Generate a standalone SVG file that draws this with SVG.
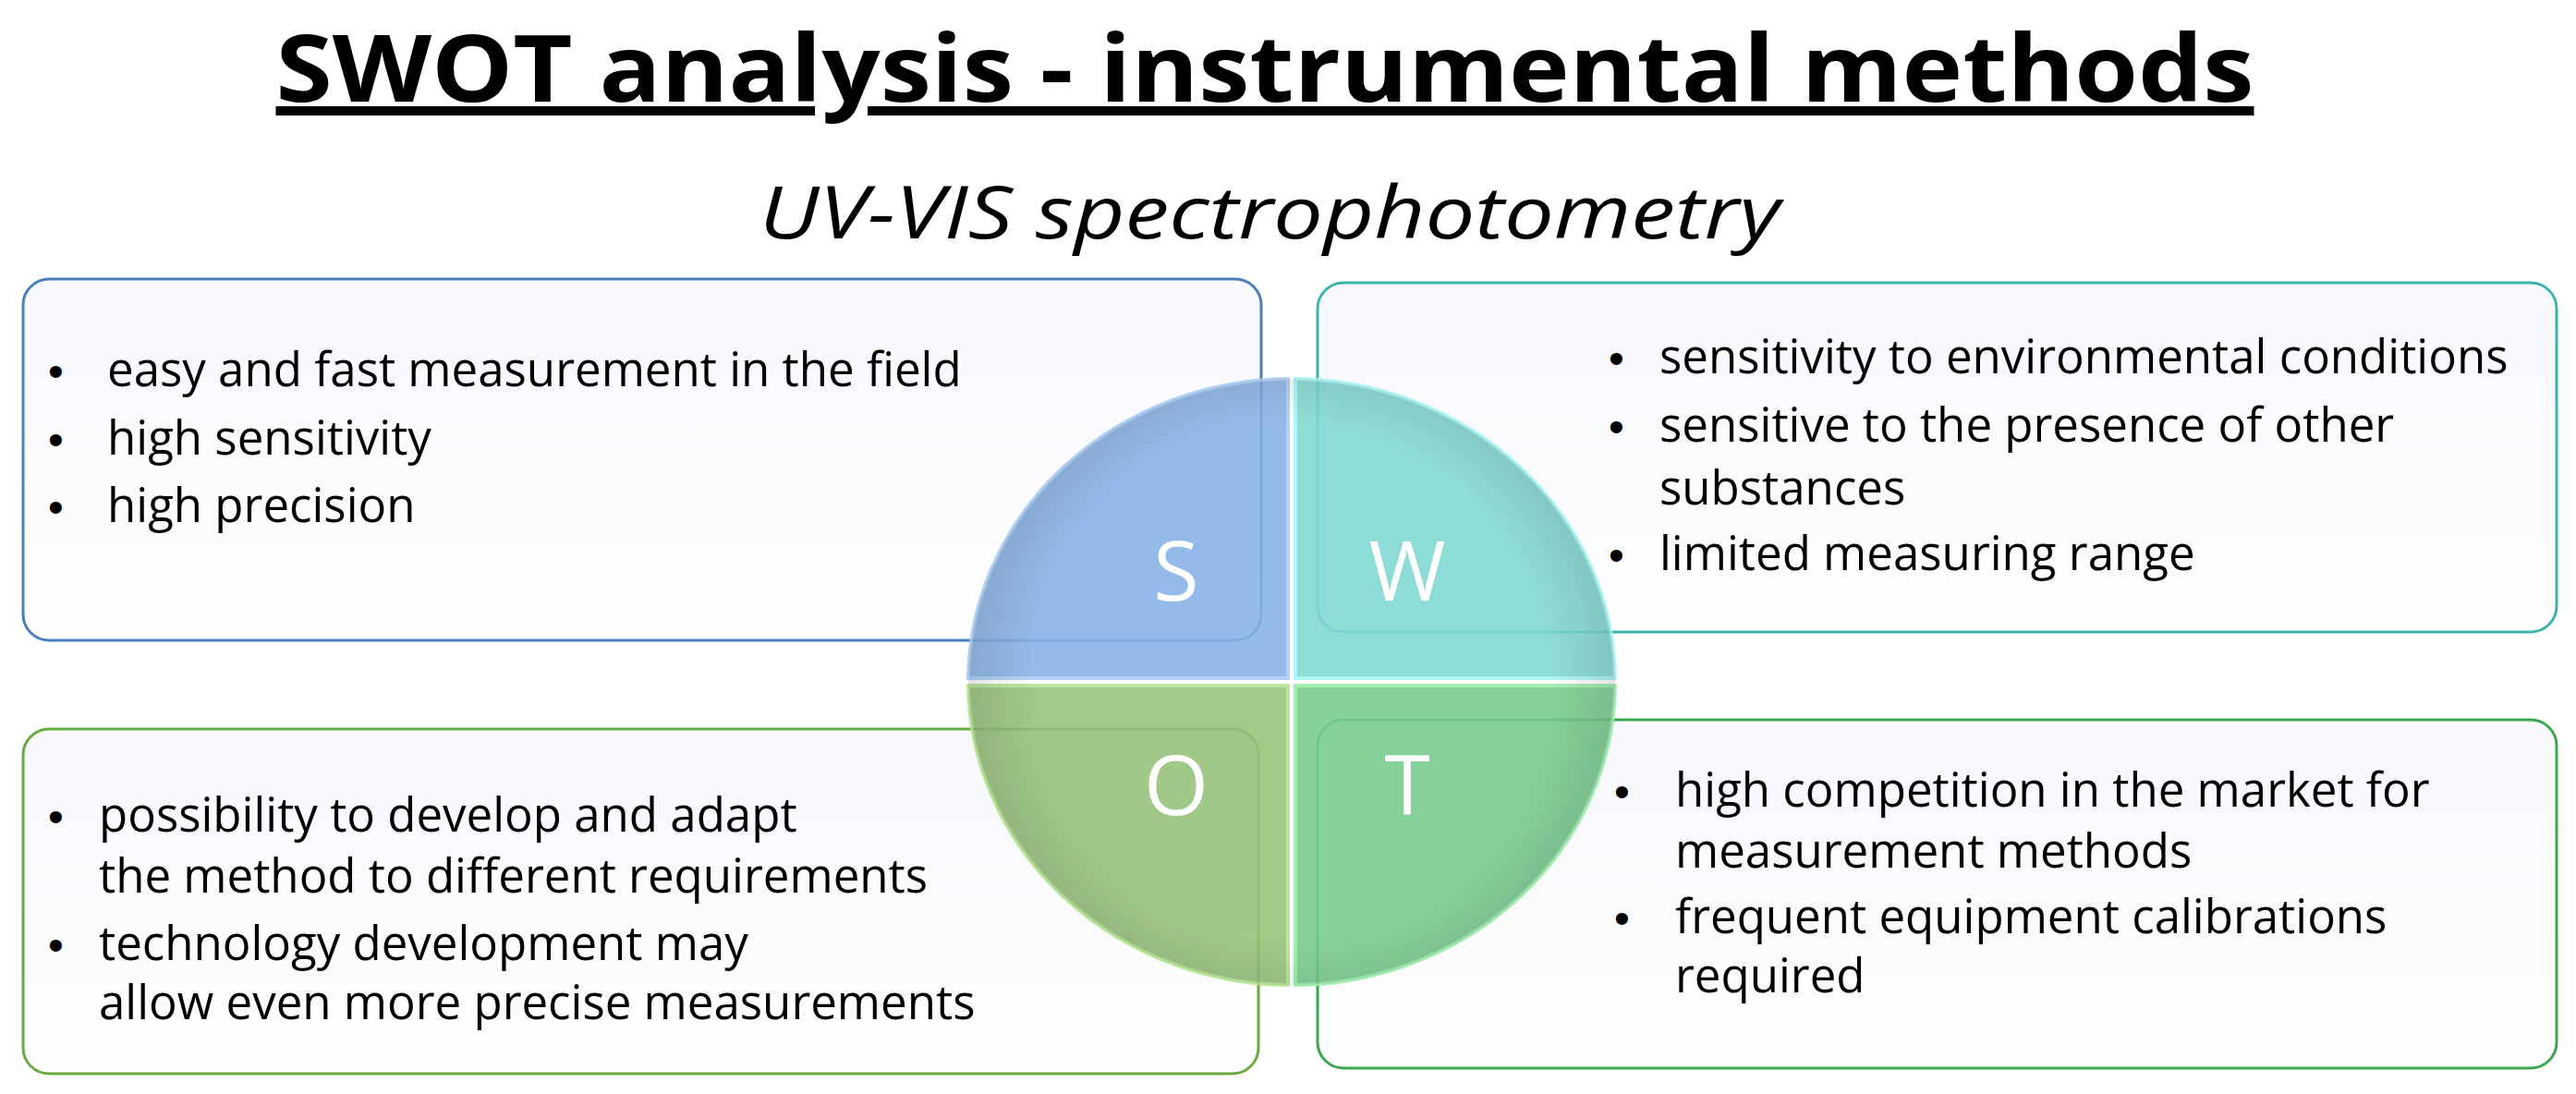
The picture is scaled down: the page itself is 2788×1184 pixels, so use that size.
<svg xmlns="http://www.w3.org/2000/svg" width="2788" height="1184" viewBox="0 0 2788 1184">
<style>
.t{font-family:"Open Sans","Liberation Sans",sans-serif;font-size:51px;fill:#000}
.b{font-family:"Liberation Sans",sans-serif;font-size:48px;fill:#000}
.L{font-family:"Open Sans","Liberation Sans",sans-serif;font-size:90px;fill:#fff;text-anchor:middle}
.box{stroke-width:3}
</style>
<defs>
<linearGradient id="bg" x1="0" y1="0" x2="0" y2="1"><stop offset="0" stop-color="#f8f9fd"/><stop offset="1" stop-color="#fefdff"/></linearGradient>
<radialGradient id="sh" cx="1398" cy="738" r="350" gradientUnits="userSpaceOnUse"><stop offset="0.8" stop-color="#000" stop-opacity="0"/><stop offset="1" stop-color="#000" stop-opacity="0.12"/></radialGradient>
</defs>
<rect width="2788" height="1184" fill="#fff"/>
<text x="1369" y="110" text-anchor="middle" font-family="Open Sans,Liberation Sans,sans-serif" font-weight="bold" font-size="100" textLength="2141" lengthAdjust="spacingAndGlyphs" text-decoration="underline">SWOT analysis - instrumental methods</text>
<text x="1374" y="258" text-anchor="middle" font-family="Open Sans,Liberation Sans,sans-serif" font-style="italic" font-size="78" textLength="1105" lengthAdjust="spacingAndGlyphs">UV-VIS spectrophotometry</text>
<g id="S-box"><rect class="box" x="25" y="302" width="1340" height="391" rx="28" fill="url(#bg)" stroke="#4a7ebf"/>
<text class="b" x="52" y="418">•</text><text class="t" x="116" y="418">easy and fast measurement in the field</text>
<text class="b" x="52" y="492">•</text><text class="t" x="116" y="492">high sensitivity</text>
<text class="b" x="52" y="565">•</text><text class="t" x="116" y="565">high precision</text></g>
<g id="W-box"><rect class="box" x="1426" y="306" width="1341" height="378" rx="28" fill="url(#bg)" stroke="#3cb4aa"/>
<text class="b" x="1741" y="404">•</text><text class="t" x="1796" y="404">sensitivity to environmental conditions</text>
<text class="b" x="1741" y="478">•</text><text class="t" x="1796" y="478">sensitive to the presence of other</text>
<text class="t" x="1796" y="546">substances</text>
<text class="b" x="1741" y="617">•</text><text class="t" x="1796" y="617">limited measuring range</text></g>
<g id="O-box"><rect class="box" x="25" y="789" width="1337" height="373" rx="28" fill="url(#bg)" stroke="#6aaa40"/>
<text class="b" x="52" y="900">•</text><text class="t" x="107" y="900">possibility to develop and adapt</text>
<text class="t" x="107" y="966">the method to different requirements</text>
<text class="b" x="52" y="1039">•</text><text class="t" x="107" y="1039">technology development may</text>
<text class="t" x="107" y="1103">allow even more precise measurements</text></g>
<g id="T-box"><rect class="box" x="1426" y="779" width="1341" height="377" rx="28" fill="url(#bg)" stroke="#3aa84e"/>
<text class="b" x="1747" y="873">•</text><text class="t" x="1813" y="873">high competition in the market for</text>
<text class="t" x="1813" y="939">measurement methods</text>
<text class="b" x="1747" y="1010">•</text><text class="t" x="1813" y="1010">frequent equipment calibrations</text>
<text class="t" x="1813" y="1074">required</text></g>
<g id="circle" opacity="0.88">
<path d="M1394,734 L1048,734 A350 328 0 0 1 1394,410 Z" fill="#86b2e6" stroke="#a8ccf4" stroke-width="4"/>
<path d="M1402,734 L1402,410 A350 328 0 0 1 1748,734 Z" fill="#7fd8d2" stroke="#a4f4f2" stroke-width="4"/>
<path d="M1394,742 L1394,1066 A350 328 0 0 1 1048,742 Z" fill="#95c278" stroke="#b2e48e" stroke-width="4"/>
<path d="M1402,742 L1748,742 A350 328 0 0 1 1402,1066 Z" fill="#77cc8e" stroke="#98eca8" stroke-width="4"/>
<ellipse cx="1398" cy="738" rx="350" ry="328" fill="url(#sh)"/>
</g>
<g id="letters">
<text class="L" x="1273" y="650">S</text>
<text class="L" x="1523" y="650">W</text>
<text class="L" x="1273" y="882">O</text>
<text class="L" x="1523" y="882">T</text>
</g>
</svg>
